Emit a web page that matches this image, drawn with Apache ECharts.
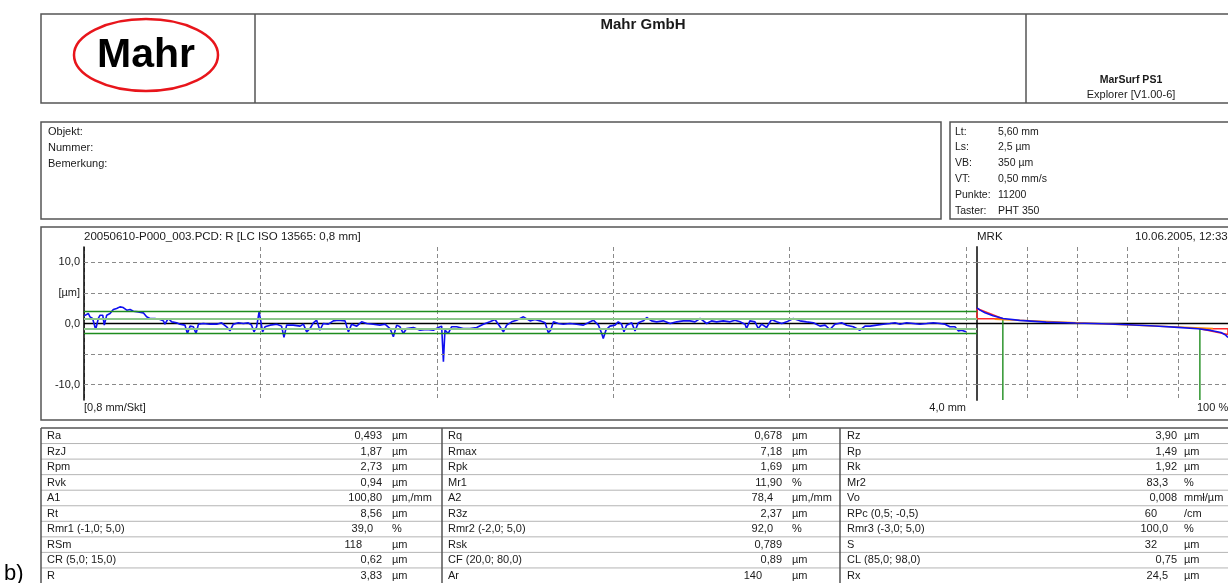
<!DOCTYPE html>
<html>
<head>
<meta charset="utf-8">
<script src="https://cdn.jsdelivr.net/npm/echarts@6/dist/echarts.min.js"></script>
<style>
  html, body { margin: 0; padding: 0; background: #fff; }
  #chart { width: 1228px; height: 583px; }
</style>
</head>
<body>
<div id="chart"></div>
<script>
// --- Daten aus dem Protokoll ---
const infoLabels = ['Objekt:', 'Nummer:', 'Bemerkung:']
const setupLabels = ['Lt:', 'Ls:', 'VB:', 'VT:', 'Punkte:', 'Taster:']
const setupValues = ['5,60 mm', '2,5 µm', '350 µm', '0,50 mm/s', '11200', 'PHT 350']

const yTickValues = [10, 5, 0, -10]
const yTickLabels = ['10,0', '[µm]', '0,0', '-10,0']

// R-Profil [mm, µm]
const profile = [
  [0.000, 1.25], [0.020, 1.63], [0.027, 1.09], [0.039, 0.82], [0.053, -0.98], [0.065, 0.82],
  [0.073, 1.36], [0.085, 1.36], [0.092, -0.27], [0.100, -0.27], [0.103, 1.36], [0.118, 1.63],
  [0.133, 2.28], [0.148, 2.45], [0.163, 2.72], [0.178, 2.61], [0.194, 2.17], [0.209, 2.28],
  [0.224, 2.01], [0.246, 1.90], [0.269, 1.74], [0.284, 1.09], [0.299, 0.82], [0.322, 0.82],
  [0.345, 0.65], [0.360, 0.43], [0.367, -0.11], [0.382, 0.82], [0.398, 0.27], [0.420, 0.11],
  [0.435, -0.11], [0.458, -0.27], [0.469, -1.63], [0.481, -0.43], [0.496, -0.54], [0.508, -1.63],
  [0.519, -0.11], [0.541, 0.00], [0.571, -0.11], [0.602, -0.11], [0.624, 0.11], [0.647, -0.54],
  [0.662, -1.20], [0.677, -0.11], [0.700, 0.11], [0.723, 0.00], [0.745, 0.11], [0.760, -0.27],
  [0.771, -1.36], [0.783, -0.54], [0.794, 1.90], [0.801, 0.54], [0.810, -1.36], [0.821, -0.54],
  [0.844, -0.27], [0.874, -0.11], [0.896, -0.43], [0.907, -2.28], [0.919, -0.27], [0.949, -0.27],
  [0.980, -0.43], [0.995, -0.11], [1.010, -1.36], [1.025, -0.82], [1.040, 0.11], [1.055, 0.54],
  [1.070, -1.09], [1.085, 0.00], [1.108, -0.11], [1.131, 0.43], [1.153, 0.54], [1.184, 0.43],
  [1.199, -1.36], [1.214, -0.11], [1.237, -0.43], [1.259, 0.27], [1.282, 0.00], [1.312, -0.11],
  [1.342, -0.27], [1.365, -0.11], [1.388, -0.82], [1.403, -2.17], [1.418, -0.27], [1.433, -0.54],
  [1.448, -1.63], [1.463, -0.82], [1.494, -0.65], [1.524, -1.09], [1.554, -0.98], [1.584, -1.09],
  [1.607, -0.65], [1.622, -0.43], [1.630, -6.25], [1.637, -1.09], [1.652, -1.63], [1.667, -0.54],
  [1.690, -0.54], [1.720, -0.82], [1.751, -0.82], [1.781, -0.65], [1.811, -0.11], [1.841, 0.27],
  [1.864, 0.65], [1.887, -0.54], [1.902, -1.36], [1.917, -0.27], [1.940, 0.27], [1.962, 0.54],
  [1.993, 1.09], [2.000, 0.82], [2.023, 0.43], [2.045, 0.65], [2.068, 0.43], [2.091, 0.11],
  [2.106, -1.52], [2.116, -1.09], [2.129, 0.27], [2.151, 0.00], [2.174, -0.11], [2.204, 0.00],
  [2.234, -0.11], [2.265, -0.27], [2.287, 0.11], [2.310, 0.54], [2.333, -0.27], [2.348, -1.63],
  [2.355, -2.45], [2.367, -1.09], [2.385, -0.43], [2.408, -0.27], [2.423, 0.27], [2.438, -0.11],
  [2.449, -1.36], [2.461, -0.27], [2.484, 0.11], [2.499, -1.20], [2.514, 0.11], [2.537, 0.43],
  [2.552, 0.98], [2.574, 0.43], [2.597, 0.27], [2.627, 0.43], [2.658, 0.00], [2.688, 0.27],
  [2.718, 0.43], [2.748, 0.43], [2.771, 0.27], [2.794, 0.82], [2.824, 0.00], [2.846, 0.43],
  [2.869, 0.27], [2.899, 0.43], [2.930, 0.27], [2.952, 0.54], [2.975, 0.27], [2.998, -0.11],
  [3.005, -0.82], [3.020, 0.43], [3.043, 0.27], [3.058, -0.82], [3.073, -0.11], [3.096, -0.65],
  [3.118, 0.65], [3.141, 0.27], [3.164, 0.00], [3.187, 0.27], [3.217, 0.82], [3.247, 0.43],
  [3.277, 0.27], [3.308, 0.11], [3.338, -0.43], [3.361, -0.27], [3.383, -0.98], [3.406, -0.11],
  [3.436, 0.11], [3.459, -0.27], [3.489, -0.54], [3.519, -1.09], [3.542, -0.43], [3.565, -0.43],
  [3.595, -0.27], [3.625, -0.11], [3.655, 0.00], [3.678, 0.11], [3.701, -0.11], [3.731, 0.11],
  [3.761, 0.00], [3.791, -0.11], [3.822, 0.00], [3.852, 0.11], [3.882, 0.00], [3.905, -0.11],
  [3.927, -0.54], [3.950, -0.54], [3.965, -1.20], [3.980, -1.09], [4.000, -1.36]
]

// Materialanteilkurve (MRK) [%, µm]
const mrkCurve = [
  [0, 2.57], [1.2, 2.19], [3.2, 1.75], [6.4, 1.26], [10.4, 0.83], [17, 0.51], [27.5, 0.23],
  [39.3, 0.07], [49.8, -0.05], [60.4, -0.21], [70.9, -0.42], [80.1, -0.64], [88, -0.87],
  [93.2, -1.13], [97.2, -1.46], [99.1, -1.9], [100, -2.3]
]

// Bezugslinien im Profil [µm]
const outerLevels = [2.04, -1.6]
const coreLevels = [0.78, -0.85]

// Rk-Konstruktion
const mr1 = 10.3
const mr2 = 88.8
const peakTop = 2.45
const valleyBottom = -1.8
const rkLine = [[7, 0.7], [94, -0.8]]

// Kennwerte (3 Spalten)
const paramNames = [
  ['Ra', 'RzJ', 'Rpm', 'Rvk', 'A1', 'Rt', 'Rmr1 (-1,0; 5,0)', 'RSm', 'CR (5,0; 15,0)', 'R'],
  ['Rq', 'Rmax', 'Rpk', 'Mr1', 'A2', 'R3z', 'Rmr2 (-2,0; 5,0)', 'Rsk', 'CF (20,0; 80,0)', 'Ar'],
  ['Rz', 'Rp', 'Rk', 'Mr2', 'Vo', 'RPc (0,5; -0,5)', 'Rmr3 (-3,0; 5,0)', 'S', 'CL (85,0; 98,0)', 'Rx']
]
const paramValues = [
  ['0,493', '1,87', '2,73', '0,94', '100,80', '8,56', '39,0', '118', '0,62', '3,83'],
  ['0,678', '7,18', '1,69', '11,90', '78,4', '2,37', '92,0', '0,789', '0,89', '140'],
  ['3,90', '1,49', '1,92', '83,3', '0,008', '60', '100,0', '32', '0,75', '24,5']
]
const paramUnits = [
  ['µm', 'µm', 'µm', 'µm', 'µm,/mm', 'µm', '%', 'µm', 'µm', 'µm'],
  ['µm', 'µm', 'µm', '%', 'µm,/mm', 'µm', '%', '', 'µm', 'µm'],
  ['µm', 'µm', 'µm', '%', 'mmł/µm', '/cm', '%', 'µm', 'µm', 'µm']
]

// --- Darstellung ---
const FONT = 'Liberation Sans, Arial, sans-serif'
const BORDER = '#555'
const GRID_DASH = { color: '#8a8a8a', width: 1, type: [4, 3] }
const yMin = -12.5
const yMax = 12.5
const xMaxMm = 4.05

const chart = echarts.init(document.getElementById('chart'))

const txt = (x, y, text, opt = {}) => ({
  type: 'text',
  silent: true,
  z: 100,
  style: {
    x, y, text,
    fill: opt.color || '#1a1a1a',
    fontSize: opt.size || 11,
    fontFamily: FONT,
    fontWeight: opt.weight || 'normal',
    align: opt.align || 'left',
    textAlign: opt.align || 'left',
    verticalAlign: 'middle',
    textVerticalAlign: 'middle'
  }
})
const rect = (x, y, w, h, lw = 1.5) => ({
  type: 'rect', silent: true, z: 90,
  shape: { x, y, width: w, height: h },
  style: { fill: 'none', stroke: BORDER, lineWidth: lw }
})
const line = (x1, y1, x2, y2, color = BORDER, lw = 1.5) => ({
  type: 'line', silent: true, z: 90,
  shape: { x1, y1, x2, y2 },
  style: { stroke: color, lineWidth: lw }
})

const graphics = []
// Kopf
graphics.push(rect(41, 14, 1200, 89))
graphics.push(line(255, 14, 255, 103))
graphics.push(line(1026, 14, 1026, 103))
graphics.push({
  type: 'ellipse', silent: true, z: 95,
  shape: { cx: 146, cy: 55, rx: 72, ry: 36 },
  style: { fill: '#fff', stroke: '#e8151b', lineWidth: 2.5 }
})
graphics.push(txt(146, 56, 'Mahr', { size: 41, weight: 'bold', align: 'center', color: '#000' }))
graphics.push(txt(643, 25, 'Mahr GmbH', { size: 15, weight: 'bold', align: 'center' }))
graphics.push(txt(1131, 80, 'MarSurf PS1', { size: 10.5, weight: 'bold', align: 'center' }))
graphics.push(txt(1131, 95, 'Explorer [V1.00-6]', { size: 11, align: 'center' }))

// Infofelder
graphics.push(rect(41, 122, 900, 97))
infoLabels.forEach((t, i) => graphics.push(txt(48, 132 + 16 * i, t)))
graphics.push(rect(950, 122, 290, 97))
setupLabels.forEach((t, i) => {
  graphics.push(txt(955, 131.7 + 15.85 * i, t, { size: 10.5 }))
  graphics.push(txt(998, 131.7 + 15.85 * i, setupValues[i], { size: 10.5 }))
})

// Diagrammrahmen
graphics.push(rect(41, 227, 1200, 193))
graphics.push(txt(84, 237, '20050610-P000_003.PCD: R [LC ISO 13565: 0,8 mm]', { size: 11.5 }))
graphics.push(txt(977, 237, 'MRK', { size: 11.5 }))
graphics.push(txt(1135, 237, '10.06.2005, 12:33', { size: 11.5 }))
graphics.push(txt(84, 408, '[0,8 mm/Skt]', { size: 11 }))
graphics.push(txt(966, 408, '4,0 mm', { size: 11, align: 'right' }))
graphics.push(txt(1197, 408, '100 %', { size: 11 }))

// Kennwerttabelle
const rowTop = 428
const rowH = 15.55
const colNameX = [47, 448, 847]
const colValRight = [382, 782, 1177]
const colUnitX = [392, 792, 1184]
for (let i = 0; i < 9; i++) {
  graphics.push(line(41, rowTop + rowH * (i + 1), 1240, rowTop + rowH * (i + 1), '#b4b4b4', 1))
}
graphics.push(line(41, rowTop, 1240, rowTop))
graphics.push(line(41, rowTop, 41, 590))
graphics.push(line(442, rowTop, 442, 590))
graphics.push(line(840, rowTop, 840, 590))
paramNames.forEach((col, c) => {
  col.forEach((name, r) => {
    const y = rowTop + rowH * r + 8
    const v = paramValues[c][r]
    const dec = v.includes(',') ? v.split(',')[1].length : 0
    const shift = dec === 0 ? -20 : dec === 1 ? -9 : 0
    graphics.push(txt(colNameX[c], y, name))
    graphics.push(txt(colValRight[c] + shift, y, v, { align: 'right' }))
    if (paramUnits[c][r]) graphics.push(txt(colUnitX[c], y, paramUnits[c][r]))
  })
})
graphics.push(txt(4, 574, 'b)', { size: 22, color: '#000' }))

const dashedY = [10, 5, -5, -10].map((v) => ({ yAxis: v, lineStyle: GRID_DASH }))

const option = {
  animation: false,
  backgroundColor: '#fff',
  grid: [
    { left: 84, top: 247, width: 893, height: 153 },
    { left: 977, top: 247, width: 253, height: 153 }
  ],
  xAxis: [
    {
      type: 'value', gridIndex: 0, min: 0, max: xMaxMm, interval: 0.8,
      axisLine: { show: false }, axisTick: { show: false }, axisLabel: { show: false },
      splitLine: { show: true, lineStyle: GRID_DASH }
    },
    {
      type: 'value', gridIndex: 1, min: 0, max: 100, interval: 20,
      axisLine: { show: false }, axisTick: { show: false }, axisLabel: { show: false },
      splitLine: { show: true, lineStyle: GRID_DASH }
    }
  ],
  yAxis: [
    {
      type: 'value', gridIndex: 0, min: yMin, max: yMax, interval: 2.5,
      axisLine: { show: true, onZero: false, lineStyle: { color: '#000', width: 1.5 } },
      axisTick: { show: false },
      splitLine: { show: false },
      axisLabel: {
        margin: 4, color: '#1a1a1a', fontSize: 11, fontFamily: FONT,
        formatter: (v) => {
          const i = yTickValues.findIndex((t) => Math.abs(t - v) < 1e-6)
          return i >= 0 ? yTickLabels[i] : ''
        }
      }
    },
    {
      type: 'value', gridIndex: 1, min: yMin, max: yMax, interval: 2.5,
      axisLine: { show: true, onZero: false, lineStyle: { color: '#444', width: 2 } },
      axisTick: { show: false }, axisLabel: { show: false }, splitLine: { show: false }
    }
  ],
  series: [
    {
      name: 'Nulllinie', type: 'line', xAxisIndex: 0, yAxisIndex: 0, z: 1,
      data: [[0, 0], [xMaxMm, 0]], showSymbol: false, silent: true,
      lineStyle: { color: '#000', width: 1.5 },
      markLine: {
        silent: true, symbol: 'none', label: { show: false },
        data: [
          ...dashedY,
          ...coreLevels.map((v) => ({ yAxis: v, lineStyle: { color: '#8cc68c', width: 2.2, type: 'solid' } })),
          ...outerLevels.map((v) => ({ yAxis: v, lineStyle: { color: '#1e8c1e', width: 1.4, type: 'solid' } }))
        ]
      }
    },
    {
      name: 'Profil', type: 'line', xAxisIndex: 0, yAxisIndex: 0, z: 3,
      data: profile, showSymbol: false, silent: true,
      lineStyle: { color: '#1010f0', width: 1.6 }
    },
    {
      name: 'MRK-Nulllinie', type: 'line', xAxisIndex: 1, yAxisIndex: 1, z: 1,
      data: [[0, 0], [100, 0]], showSymbol: false, silent: true,
      lineStyle: { color: '#000', width: 1.5 },
      markLine: { silent: true, symbol: 'none', label: { show: false }, data: dashedY }
    },
    {
      name: 'Mr1', type: 'line', xAxisIndex: 1, yAxisIndex: 1, z: 2,
      data: [[mr1, coreLevels[0]], [mr1, yMin]], showSymbol: false, silent: true,
      lineStyle: { color: '#1e8c1e', width: 1.4 }
    },
    {
      name: 'Mr2', type: 'line', xAxisIndex: 1, yAxisIndex: 1, z: 2,
      data: [[mr2, coreLevels[1]], [mr2, yMin]], showSymbol: false, silent: true,
      lineStyle: { color: '#1e8c1e', width: 1.4 }
    },
    {
      name: 'Rpk', type: 'line', xAxisIndex: 1, yAxisIndex: 1, z: 2,
      data: [[0, peakTop], [0, coreLevels[0]], [mr1, coreLevels[0]], [0, peakTop]],
      showSymbol: false, silent: true,
      lineStyle: { color: '#ff2a2a', width: 1.5 }
    },
    {
      name: 'Rvk', type: 'line', xAxisIndex: 1, yAxisIndex: 1, z: 2,
      data: [[mr2, coreLevels[1]], [100, coreLevels[1]], [100, valleyBottom], [mr2, coreLevels[1]]],
      showSymbol: false, silent: true,
      lineStyle: { color: '#ff2a2a', width: 1.5 }
    },
    {
      name: 'Rk', type: 'line', xAxisIndex: 1, yAxisIndex: 1, z: 3,
      data: rkLine, showSymbol: false, silent: true,
      lineStyle: { color: '#ff8c00', width: 1.5 }
    },
    {
      name: 'Abbott', type: 'line', xAxisIndex: 1, yAxisIndex: 1, z: 4,
      data: mrkCurve, showSymbol: false, silent: true,
      lineStyle: { color: '#1010f0', width: 1.6 }
    }
  ],
  graphic: graphics
}

chart.setOption(option)
</script>
</body>
</html>
